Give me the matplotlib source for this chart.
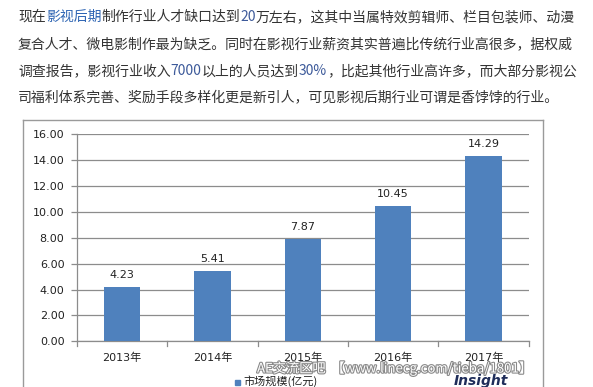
import matplotlib
matplotlib.use("Agg")
import matplotlib.pyplot as plt
import matplotlib.patheffects as pe
from matplotlib.lines import Line2D
from matplotlib.patches import Rectangle

plt.rcParams['font.family'] = ['Noto Sans CJK SC', 'DejaVu Sans']

categories = ["2013年", "2014年", "2015年", "2016年", "2017年"]
values = [4.23, 5.41, 7.87, 10.45, 14.29]
value_labels = ["4.23", "5.41", "7.87", "10.45", "14.29"]
yticks = [0, 2, 4, 6, 8, 10, 12, 14, 16]
ytick_labels = ["0.00", "2.00", "4.00", "6.00", "8.00", "10.00", "12.00", "14.00", "16.00"]
legend_label = "市场规模(亿元)"

DARK = "#333333"
LINK = "#2d64b3"
NUM = "#3d5a9a"
paragraph = [
    [("现在", DARK), ("影视后期", LINK), ("制作行业人才缺口达到", DARK), ("20", NUM),
     ("万左右，这其中当属特效剪辑师、栏目包装师、动漫", DARK)],
    [("复合人才、微电影制作最为缺乏。同时在影视行业薪资其实普遍比传统行业高很多，据权威", DARK)],
    [("调查报告，影视行业收入", DARK), ("7000", NUM), ("以上的人员达到", DARK), ("30%", NUM),
     ("，比起其他行业高许多，而大部分影视公", DARK)],
    [("司福利体系完善、奖励手段多样化更是新引人，可见影视后期行业可谓是香饽饽的行业。", DARK)],
]

W, H = 593, 387
fig = plt.figure(figsize=(W / 100, H / 100), dpi=100)
fig.patch.set_facecolor("white")
renderer = fig.canvas.get_renderer()

# paragraph text
line_y = [17, 44, 71, 98]
for segs, yy in zip(paragraph, line_y):
    x = 18
    for s, c in segs:
        t = fig.text(x / W, 1 - yy / H, s, fontsize=10.0, color=c,
                     ha="left", va="center", family=['Noto Sans CJK SC', 'DejaVu Sans'])
        bb = t.get_window_extent(renderer=renderer)
        x += bb.width

# chart outer frame
for xs, ys in [([22.7, 22.7], [H + 2, 120]), ([22.7, 543.3], [120, 120]), ([543.3, 543.3], [120, H + 2])]:
    fig.add_artist(Line2D([v / W for v in xs], [1 - v / H for v in ys], color="#9a9a9a", lw=1.0))

left, right, top, bottom = 77, 528.7, 134.3, 341.3
ax = fig.add_axes([left / W, 1 - bottom / H, (right - left) / W, (bottom - top) / H])
ax.set_facecolor("white")
xpos = list(range(len(categories)))
ax.bar(xpos, values, width=0.4, color="#4f81bd", zorder=3)
ax.set_xlim(-0.5, len(categories) - 0.5)
ax.set_ylim(0, 16)
ax.set_yticks(yticks)
ax.set_yticklabels(ytick_labels, fontsize=8, color="#222222", family="DejaVu Sans")
ax.yaxis.grid(True, color="#8c8c8c", lw=0.9, zorder=0)
ax.set_xticks(xpos)
ax.set_xticklabels(categories, fontsize=8, color="#222222", family=['DejaVu Sans', 'Noto Sans CJK SC'])
ax.tick_params(axis="x", length=0, pad=8)
ax.tick_params(axis="y", length=4, width=0.9, color="#8c8c8c", pad=5)
# category boundary ticks
for b in [i + 0.5 for i in range(-1, len(categories))]:
    ax.plot([b, b], [0, -0.35], color="#8c8c8c", lw=0.9, clip_on=False)
for s in ["top", "right"]:
    ax.spines[s].set_visible(False)
for s in ["left", "bottom"]:
    ax.spines[s].set_color("#8c8c8c")
    ax.spines[s].set_linewidth(0.9)
for xi, v, lab in zip(xpos, values, value_labels):
    ax.annotate(lab, (xi, v), xytext=(0, 12), textcoords="offset pixels",
                ha="center", va="center", fontsize=8, color="#222222", family="DejaVu Sans")

# watermark
fig.text(257 / W, 1 - 368.5 / H, "AE交流区吧  【www.linecg.com/tieba/1801】", fontsize=9.5,
         color="white", ha="left", va="center",
         path_effects=[pe.Stroke(linewidth=1.6, foreground="#8a8a8a"), pe.Normal()])

# legend
fig.add_artist(Rectangle((235 / W, 1 - 385 / H), 5 / W, 5 / H, color="#4f81bd", transform=fig.transFigure))
fig.text(243 / W, 1 - 381.5 / H, legend_label, fontsize=8, color="#222222", ha="left", va="center")

# logo
fig.text(454 / W, 1 - 381.5 / H, "Insight", fontsize=10, color="#1f2d5a", ha="left", va="center",
         fontstyle="italic", fontweight="bold", family="DejaVu Sans")

fig.savefig("out.png", dpi=100, facecolor="white")
